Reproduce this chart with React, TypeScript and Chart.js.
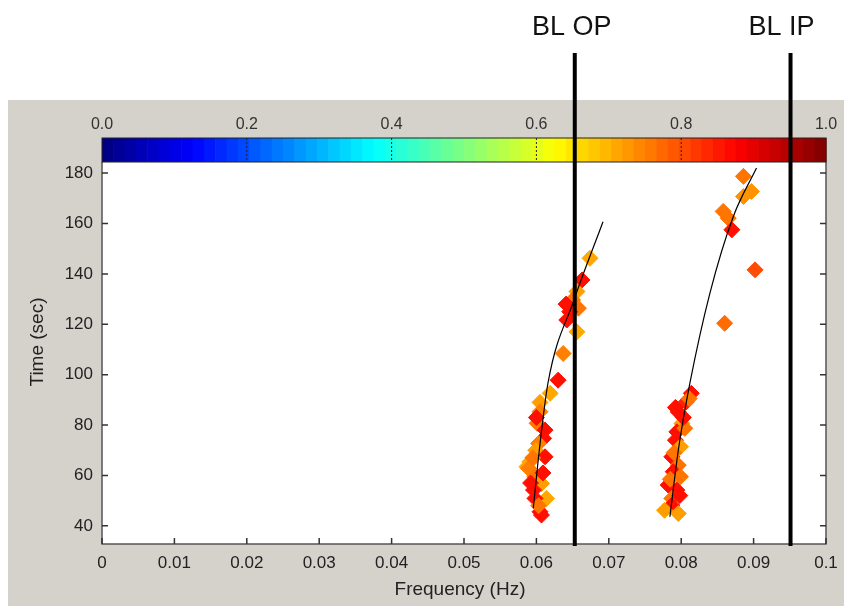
import React, { useEffect, useRef } from "react";
import { Chart, registerables } from "chart.js";

Chart.register(...registerables);

// ---- tick labels ----
const X_TICKS = [0, 0.01, 0.02, 0.03, 0.04, 0.05, 0.06, 0.07, 0.08, 0.09, 0.1];
const Y_TICKS = [40, 60, 80, 100, 120, 140, 160, 180];
const CBAR_TICKS = [0, 0.2, 0.4, 0.6, 0.8, 1.0];
const X_TITLE = "Frequency (Hz)";
const Y_TITLE = "Time (sec)";

// ---- reference lines ----
const BL_LABELS = ["BL OP", "BL IP"];
const BL_FREQ = [0.0653, 0.0951];

// ---- out-of-phase cluster (frequency Hz, time s, coherence) ----
const OP_FREQ = [
  0.0674, 0.0663, 0.0656, 0.065, 0.0658, 0.0646, 0.0642, 0.0656, 0.0637, 0.063,
  0.0619, 0.0605, 0.0605, 0.0601, 0.0612, 0.061, 0.0603, 0.0599, 0.0612, 0.0591,
  0.0587, 0.0589, 0.0598, 0.0607, 0.0596, 0.0614, 0.0598, 0.0605, 0.0607,
  0.06, 0.0595, 0.0603, 0.0609, 0.0592, 0.0641,
];
const OP_TIME = [
  146.2, 137.6, 133.0, 129.6, 126.4, 125.0, 121.7, 117.0, 108.4, 97.8,
  92.6, 89.0, 85.3, 80.7, 78.0, 74.7, 72.7, 70.0, 67.4, 65.4,
  63.5, 62.8, 59.5, 56.8, 54.2, 50.9, 50.9, 45.6, 44.3,
  83.0, 67.0, 48.0, 61.0, 57.0, 128.0,
];
const OP_COH = [
  0.71, 0.86, 0.72, 0.76, 0.76, 0.86, 0.86, 0.71, 0.75, 0.86,
  0.71, 0.72, 0.75, 0.76, 0.86, 0.86, 0.75, 0.72, 0.86, 0.71,
  0.71, 0.75, 0.76, 0.72, 0.86, 0.71, 0.86, 0.86, 0.86,
  0.86, 0.76, 0.76, 0.86, 0.86, 0.86,
];

// ---- in-phase cluster ----
const IP_FREQ = [
  0.0886, 0.0897, 0.0886, 0.0858, 0.0865, 0.087, 0.0902, 0.086,
  0.0814, 0.0807, 0.0796, 0.0801, 0.0794, 0.0805, 0.0792, 0.0799, 0.0787, 0.0796,
  0.0789, 0.0799, 0.0782, 0.0794, 0.0787, 0.0787, 0.0777, 0.0796,
  0.0811, 0.0803, 0.079, 0.0785, 0.0798, 0.0792,
];
const IP_TIME = [
  178.7, 172.7, 170.7, 164.8, 162.1, 157.5, 141.6, 120.4,
  92.6, 89.2, 85.2, 80.6, 77.3, 78.7, 74.0, 71.4, 67.4, 64.1,
  61.5, 59.5, 56.2, 54.2, 50.9, 48.2, 46.2, 44.9,
  90.5, 83.0, 69.0, 58.5, 52.0, 87.0,
];
const IP_COH = [
  0.76, 0.73, 0.73, 0.76, 0.76, 0.86, 0.8, 0.77,
  0.86, 0.84, 0.86, 0.72, 0.86, 0.76, 0.86, 0.72, 0.86, 0.76,
  0.86, 0.76, 0.86, 0.86, 0.76, 0.86, 0.72, 0.72,
  0.76, 0.86, 0.76, 0.76, 0.86, 0.86,
];

// ---- fitted curves ----
const OP_FIT_FREQ = [0.05957, 0.0604, 0.0616, 0.0652, 0.0692];
const OP_FIT_TIME = [47.0, 70.0, 96.7, 129.7, 160.7];
const IP_FIT_FREQ = [0.07844, 0.0796, 0.0812, 0.08396, 0.0872, 0.0904];
const IP_FIT_TIME = [43.6, 70.0, 96.6, 132.3, 162.8, 182.0];

const FONT = '"Liberation Sans", Arial, sans-serif';
const BG_GRAY = "#d5d2cc";

function jet(v: number): string {
  const c = (x: number) => Math.round(255 * Math.min(1, Math.max(0, x)));
  return `rgb(${c(1.5 - Math.abs(4 * v - 3))},${c(1.5 - Math.abs(4 * v - 2))},${c(
    1.5 - Math.abs(4 * v - 1)
  )})`;
}

const decor = {
  id: "decor",
  beforeDraw(chart: any) {
    const { ctx, chartArea: a, width, height } = chart;
    ctx.save();
    ctx.fillStyle = "#fff";
    ctx.fillRect(0, 0, width, height);
    ctx.fillStyle = BG_GRAY;
    ctx.fillRect(8, 100, 836, 506);
    ctx.fillStyle = "#fff";
    ctx.fillRect(a.left, a.top, a.right - a.left, a.bottom - a.top);
    ctx.restore();
  },
  afterDraw(chart: any) {
    const { ctx, chartArea: a } = chart;
    const xs = chart.scales.x;
    const ys = chart.scales.y;
    ctx.save();
    // frame
    ctx.strokeStyle = "#555";
    ctx.lineWidth = 1.5;
    ctx.beginPath();
    ctx.moveTo(a.left, a.top);
    ctx.lineTo(a.left, a.bottom);
    ctx.lineTo(a.right, a.bottom);
    ctx.lineTo(a.right, a.top);
    ctx.stroke();
    // inward ticks
    ctx.strokeStyle = "#333";
    ctx.beginPath();
    for (const v of Y_TICKS) {
      const y = ys.getPixelForValue(v);
      ctx.moveTo(a.left, y);
      ctx.lineTo(a.left + 6, y);
      ctx.moveTo(a.right, y);
      ctx.lineTo(a.right - 6, y);
    }
    for (const v of X_TICKS) {
      const x = xs.getPixelForValue(v);
      ctx.moveTo(x, a.bottom);
      ctx.lineTo(x, a.bottom - 6);
    }
    ctx.stroke();

    // colorbar
    const cbTop = a.top - 24;
    const cbW = a.right - a.left;
    const n = 64;
    for (let i = 0; i < n; i++) {
      ctx.fillStyle = jet((i + 0.5) / n);
      const x0 = a.left + (i * cbW) / n;
      ctx.fillRect(x0, cbTop, cbW / n + 0.6, 24);
    }
    ctx.strokeStyle = "#222";
    ctx.lineWidth = 1;
    ctx.strokeRect(a.left, cbTop, cbW, 24);
    ctx.setLineDash([2, 2]);
    ctx.beginPath();
    for (const v of CBAR_TICKS) {
      if (v <= 0 || v >= 1) continue;
      const x = a.left + v * cbW;
      ctx.moveTo(x, cbTop);
      ctx.lineTo(x, a.top);
    }
    ctx.stroke();
    ctx.setLineDash([]);
    ctx.fillStyle = "#333";
    ctx.font = `16px ${FONT}`;
    ctx.textAlign = "center";
    ctx.textBaseline = "middle";
    for (const v of CBAR_TICKS) {
      ctx.fillText(v.toFixed(1), a.left + v * cbW, 125);
    }

    // axis titles
    ctx.fillStyle = "#222";
    ctx.font = `19px ${FONT}`;
    ctx.fillText(X_TITLE, (a.left + a.right) / 2 - 4, 590);
    ctx.save();
    ctx.translate(38, 342);
    ctx.rotate(-Math.PI / 2);
    ctx.fillText(Y_TITLE, 0, 0);
    ctx.restore();

    // BL reference lines
    ctx.strokeStyle = "#000";
    ctx.lineWidth = 4;
    ctx.beginPath();
    BL_FREQ.forEach((f) => {
      const x = xs.getPixelForValue(f);
      ctx.moveTo(x, 53);
      ctx.lineTo(x, a.bottom + 2);
    });
    ctx.stroke();
    ctx.fillStyle = "#111";
    ctx.font = `27px ${FONT}`;
    ctx.textBaseline = "alphabetic";
    const shifts = [-3, -9];
    BL_FREQ.forEach((f, i) => {
      const x = xs.getPixelForValue(f);
      ctx.fillText(BL_LABELS[i], x + shifts[i], 35);
    });
    ctx.restore();
  },
};

export default function App() {
  const ref = useRef<HTMLCanvasElement | null>(null);
  useEffect(() => {
    if (!ref.current) return;
    const opColors = OP_COH.map(jet);
    const ipColors = IP_COH.map(jet);
    const tickFont = { family: FONT, size: 17 };
    const chart = new Chart(ref.current, {
      type: "scatter",
      data: {
        datasets: [
          {
            label: "OP fit",
            data: OP_FIT_FREQ.map((x, i) => ({ x, y: OP_FIT_TIME[i] })),
            showLine: true,
            borderColor: "#000",
            borderWidth: 1.2,
            pointRadius: 0,
            cubicInterpolationMode: "monotone",
            order: 0,
          },
          {
            label: "IP fit",
            data: IP_FIT_FREQ.map((x, i) => ({ x, y: IP_FIT_TIME[i] })),
            showLine: true,
            borderColor: "#000",
            borderWidth: 1.2,
            pointRadius: 0,
            cubicInterpolationMode: "monotone",
            order: 0,
          },
          {
            label: "OP",
            data: OP_FREQ.map((x, i) => ({ x, y: OP_TIME[i] })),
            pointStyle: "rectRot",
            pointRadius: 8,
            backgroundColor: opColors,
            borderColor: opColors,
            borderWidth: 1,
            order: 1,
          },
          {
            label: "IP",
            data: IP_FREQ.map((x, i) => ({ x, y: IP_TIME[i] })),
            pointStyle: "rectRot",
            pointRadius: 8,
            backgroundColor: ipColors,
            borderColor: ipColors,
            borderWidth: 1,
            order: 1,
          },
        ],
      },
      options: {
        animation: false,
        responsive: false,
        devicePixelRatio: 1,
        layout: { padding: { top: 162, right: 25, left: 0, bottom: 0 } },
        plugins: {
          legend: { display: false },
          tooltip: { enabled: false },
        },
        scales: {
          x: {
            type: "linear",
            min: 0,
            max: 0.1,
            afterBuildTicks: (s: any) => {
              s.ticks = X_TICKS.map((value) => ({ value }));
            },
            afterFit: (s: any) => {
              s.height = 66;
            },
            ticks: {
              callback: (v: any) => String(+Number(v).toFixed(2)),
              font: tickFont,
              color: "#222",
              padding: 9,
              maxRotation: 0,
              autoSkip: false,
            },
            grid: { display: false, drawTicks: false },
            border: { display: false },
          },
          y: {
            type: "linear",
            min: 32.8,
            max: 184.4,
            afterBuildTicks: (s: any) => {
              s.ticks = Y_TICKS.map((value) => ({ value }));
            },
            afterFit: (s: any) => {
              s.width = 102;
            },
            ticks: {
              font: tickFont,
              color: "#222",
              padding: 9,
              autoSkip: false,
            },
            grid: { display: false, drawTicks: false },
            border: { display: false },
          },
        },
      } as any,
      plugins: [decor],
    });
    return () => chart.destroy();
  }, []);
  return (
    <div style={{ position: "fixed", left: 0, top: 0, width: 851, height: 610 }}>
      <canvas ref={ref} width={851} height={610} style={{ display: "block" }} />
    </div>
  );
}
